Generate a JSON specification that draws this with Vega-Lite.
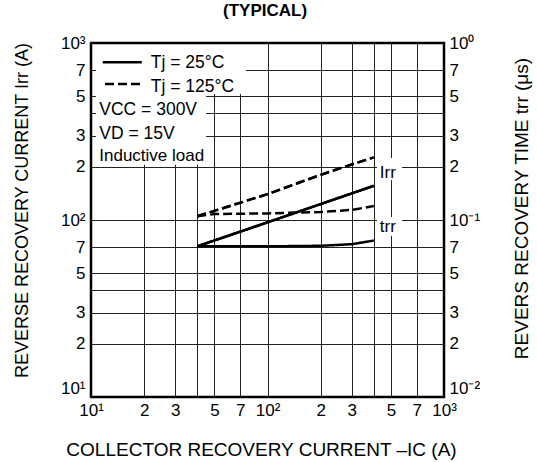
{
  "$schema": "https://vega.github.io/schema/vega-lite/v6.json",
  "width": 353,
  "height": 354,
  "autosize": {"type": "none"},
  "padding": {"left": 91, "top": 43, "right": 93, "bottom": 65},
  "background": "white",
  "config": {
    "view": {"stroke": null},
    "axis": {"labelFont": "Liberation Sans", "titleFont": "Liberation Sans", "labelColor": "#000", "titleColor": "#000", "labelFontSize": 17, "titleFontSize": 18, "titleFontWeight": "normal", "ticks": false, "domain": false, "labelOverlap": false, "labelFlush": false, "labelBound": false, "gridColor": "#222", "gridWidth": 1, "gridOpacity": 1},
    "text": {"font": "Liberation Sans", "color": "#000"}
  },
  "datasets": {
    "irr": [
      {"Ic": 40, "Irr": 71, "Tj": "25"},
      {"Ic": 100, "Irr": 97, "Tj": "25"},
      {"Ic": 200, "Irr": 123, "Tj": "25"},
      {"Ic": 400, "Irr": 156, "Tj": "25"},
      {"Ic": 40, "Irr": 105, "Tj": "125"},
      {"Ic": 100, "Irr": 140, "Tj": "125"},
      {"Ic": 200, "Irr": 180, "Tj": "125"},
      {"Ic": 300, "Irr": 206, "Tj": "125"},
      {"Ic": 400, "Irr": 226, "Tj": "125"}
    ],
    "trr": [
      {"Ic": 40, "trr": 0.071, "Tj": "25"},
      {"Ic": 100, "trr": 0.071, "Tj": "25"},
      {"Ic": 200, "trr": 0.0715, "Tj": "25"},
      {"Ic": 300, "trr": 0.073, "Tj": "25"},
      {"Ic": 400, "trr": 0.0765, "Tj": "25"},
      {"Ic": 40, "trr": 0.105, "Tj": "125"},
      {"Ic": 50, "trr": 0.108, "Tj": "125"},
      {"Ic": 100, "trr": 0.109, "Tj": "125"},
      {"Ic": 200, "trr": 0.111, "Tj": "125"},
      {"Ic": 300, "trr": 0.114, "Tj": "125"},
      {"Ic": 400, "trr": 0.12, "Tj": "125"}
    ],
    "one": [{}]
  },
  "layer": [
    {
      "layer": [
        {
          "data": {"name": "irr"},
          "mark": {"type": "line", "stroke": "#000", "strokeWidth": 2.5},
          "encoding": {
            "x": {"field": "Ic", "type": "quantitative", "scale": {"type": "log", "domain": [10, 1000]},
              "axis": {"title": "COLLECTOR RECOVERY CURRENT  –IC (A)", "titleFontSize": 19, "values": [10, 20, 30, 40, 50, 70, 100, 200, 300, 400, 500, 700, 1000],
                "labelExpr": "datum.value==10?'10¹':datum.value==100?'10²':datum.value==1000?'10³':(datum.value==40||datum.value==400)?'':format(datum.value/pow(10,floor(log(datum.value)/LN10+1e-9)),'.0f')",
                "labelPadding": 5, "titleX": 170, "titleY": 58, "titleAlign": "center", "titleBaseline": "alphabetic"}},
            "y": {"field": "Irr", "type": "quantitative", "scale": {"type": "log", "domain": [10, 1000]},
              "axis": {"orient": "left", "title": "REVERSE RECOVERY CURRENT  Irr (A)", "values": [10, 20, 30, 40, 50, 70, 100, 200, 300, 400, 500, 700, 1000],
                "labelExpr": "datum.value==10?'10¹':datum.value==100?'10²':datum.value==1000?'10³':(datum.value==40||datum.value==400)?'':format(datum.value/pow(10,floor(log(datum.value)/LN10+1e-9)),'.0f')",
                "labelBaseline": {"condition": {"test": "datum.value==10", "value": "bottom"}, "value": "middle"},
                "labelPadding": 6, "titleX": -69, "titleY": 167, "titleAlign": "center", "titleBaseline": "middle"}},
            "strokeDash": {"field": "Tj", "type": "nominal", "scale": {"domain": ["25", "125"], "range": [[1, 0], [9, 4]]}, "legend": null}
          }
        },
        {
          "data": {"name": "one"},
          "mark": {"type": "rect", "fill": "white"},
          "encoding": {"x": {"datum": 10.67, "type": "quantitative"}, "x2": {"datum": 75.5}, "y": {"datum": 1000, "type": "quantitative"}, "y2": {"datum": 515}}
        },
        {
          "data": {"name": "one"},
          "mark": {"type": "rect", "fill": "white"},
          "encoding": {"x": {"datum": 10.67, "type": "quantitative"}, "x2": {"datum": 44.9}, "y": {"datum": 515, "type": "quantitative"}, "y2": {"datum": 205}}
        },
        {
          "data": {"name": "one"},
          "mark": {"type": "rect", "fill": "white"},
          "encoding": {"x": {"datum": 417, "type": "quantitative"}, "x2": {"datum": 578}, "y": {"datum": 224, "type": "quantitative"}, "y2": {"datum": 168}}
        },
        {
          "data": {"name": "one"},
          "mark": {"type": "rect", "fill": "white"},
          "encoding": {"x": {"datum": 417, "type": "quantitative"}, "x2": {"datum": 578}, "y": {"datum": 104, "type": "quantitative"}, "y2": {"datum": 81.3}}
        },
        {
          "data": {"name": "irr"},
          "mark": {"type": "line", "stroke": "#000", "strokeWidth": 2.5},
          "encoding": {
            "x": {"field": "Ic", "type": "quantitative"},
            "y": {"field": "Irr", "type": "quantitative"},
            "strokeDash": {"field": "Tj", "type": "nominal", "legend": null}
          }
        },
        {
          "data": {"name": "one"},
          "mark": {"type": "rule", "stroke": "#000", "strokeWidth": 2.5},
          "encoding": {"x": {"datum": 11.65, "type": "quantitative"}, "x2": {"datum": 19.4}, "y": {"datum": 778, "type": "quantitative"}}
        },
        {
          "data": {"name": "one"},
          "mark": {"type": "rule", "stroke": "#000", "strokeWidth": 2.5, "strokeDash": [9, 4]},
          "encoding": {"x": {"datum": 12.0, "type": "quantitative"}, "x2": {"datum": 19.4}, "y": {"datum": 586, "type": "quantitative"}}
        },
        {
          "data": {"name": "one"},
          "mark": {"type": "text", "text": "Tj = 25°C", "align": "left", "baseline": "alphabetic", "fontSize": 17.5},
          "encoding": {"x": {"datum": 21.8, "type": "quantitative"}, "y": {"datum": 723, "type": "quantitative"}}
        },
        {
          "data": {"name": "one"},
          "mark": {"type": "text", "text": "Tj = 125°C", "align": "left", "baseline": "alphabetic", "fontSize": 17.5},
          "encoding": {"x": {"datum": 21.8, "type": "quantitative"}, "y": {"datum": 531, "type": "quantitative"}}
        },
        {
          "data": {"name": "one"},
          "mark": {"type": "text", "text": "VCC = 300V", "align": "left", "baseline": "alphabetic", "fontSize": 17.5},
          "encoding": {"x": {"datum": 11.14, "type": "quantitative"}, "y": {"datum": 392, "type": "quantitative"}}
        },
        {
          "data": {"name": "one"},
          "mark": {"type": "text", "text": "VD = 15V", "align": "left", "baseline": "alphabetic", "fontSize": 17.5},
          "encoding": {"x": {"datum": 11.14, "type": "quantitative"}, "y": {"datum": 286, "type": "quantitative"}}
        },
        {
          "data": {"name": "one"},
          "mark": {"type": "text", "text": "Inductive load", "align": "left", "baseline": "alphabetic", "fontSize": 17},
          "encoding": {"x": {"datum": 11.14, "type": "quantitative"}, "y": {"datum": 216, "type": "quantitative"}}
        },
        {
          "data": {"name": "one"},
          "mark": {"type": "text", "text": "Irr", "align": "left", "baseline": "alphabetic", "fontSize": 17},
          "encoding": {"x": {"datum": 433, "type": "quantitative"}, "y": {"datum": 172.6, "type": "quantitative"}}
        },
        {
          "data": {"name": "one"},
          "mark": {"type": "text", "text": "trr", "align": "left", "baseline": "alphabetic", "fontSize": 17},
          "encoding": {"x": {"datum": 433, "type": "quantitative"}, "y": {"datum": 85.5, "type": "quantitative"}}
        },
        {
          "data": {"name": "one"},
          "mark": {"type": "text", "text": "(TYPICAL)", "align": "center", "baseline": "alphabetic", "fontSize": 17, "fontWeight": "bold"},
          "encoding": {"x": {"datum": 96.8, "type": "quantitative"}, "y": {"datum": 1430, "type": "quantitative"}}
        },
        {
          "data": {"name": "one"},
          "mark": {"type": "rect", "fill": null, "stroke": "#000", "strokeWidth": 2.5},
          "encoding": {"x": {"datum": 10, "type": "quantitative"}, "x2": {"datum": 1000}, "y": {"datum": 10, "type": "quantitative"}, "y2": {"datum": 1000}}
        }
      ]
    },
    {
      "data": {"name": "trr"},
      "mark": {"type": "line", "stroke": "#000", "strokeWidth": 2.5},
      "encoding": {
        "x": {"field": "Ic", "type": "quantitative"},
        "y": {"field": "trr", "type": "quantitative", "scale": {"type": "log", "domain": [0.01, 1]},
          "axis": {"orient": "right", "grid": false, "title": "REVERS RECOVERY TIME  trr (μs)", "titleFontSize": 19, "values": [0.01, 0.02, 0.03, 0.04, 0.05, 0.07, 0.1, 0.2, 0.3, 0.4, 0.5, 0.7, 1],
            "labelExpr": "datum.value==0.01?'10⁻²':datum.value==0.1?'10⁻¹':datum.value==1?'10⁰':(datum.value==0.04||datum.value==0.4)?'':format(datum.value/pow(10,floor(log(datum.value)/LN10+1e-9)),'.0f')",
            "labelBaseline": {"condition": {"test": "datum.value==0.01", "value": "bottom"}, "value": "middle"},
            "labelPadding": 5, "titleAngle": 270, "titleX": 77, "titleY": 165, "titleAlign": "center", "titleBaseline": "middle"}},
        "strokeDash": {"field": "Tj", "type": "nominal", "scale": {"domain": ["25", "125"], "range": [[1, 0], [9, 4]]}, "legend": null}
      }
    }
  ],
  "resolve": {"scale": {"y": "independent"}, "axis": {"y": "independent"}}
}
